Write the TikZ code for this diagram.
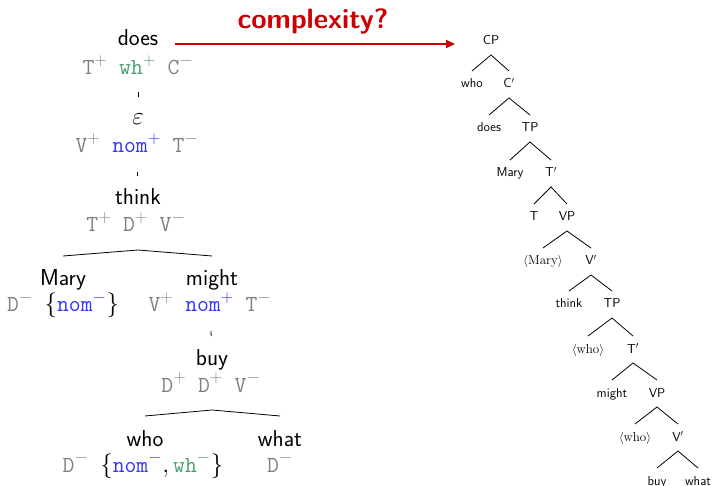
\documentclass[tikz,border=0pt]{standalone}
\usepackage{fontspec}
\usetikzlibrary{arrows.meta}
\definecolor{fgray}{RGB}{128,128,128}
\definecolor{wgreen}{RGB}{70,160,110}
\definecolor{nblue}{RGB}{50,50,255}
\definecolor{cred}{RGB}{204,0,0}
\newcommand{\fs}[2]{{\color{fgray}\texttt{#1}$^{#2}$}}
\newcommand{\fw}[2]{{\color{wgreen}\texttt{#1}$^{#2}$}}
\newcommand{\fn}[2]{{\color{nblue}\texttt{#1}$^{#2}$}}
\begin{document}
\begin{tikzpicture}[x=1pt,y=-1pt,
  word/.style={font=\fontsize{23}{27}\selectfont\sffamily, inner sep=0pt, text height=16pt, text depth=0pt},
  feat/.style={font=\fontsize{23}{27}\selectfont\ttfamily, inner sep=0pt, text height=14pt, text depth=0pt},
  rt/.style={font=\fontsize{13}{15}\selectfont\sffamily, inner sep=0pt, text height=8pt, text depth=0pt},
  rr/.style={font=\fontsize{13}{15}\selectfont\rmfamily, inner sep=0pt, text height=8pt, text depth=0pt},
  tick/.style={line width=0.8pt},
  br/.style={line width=0.8pt}]
\useasboundingbox (0,0) rectangle (715,486);
% title and arrow
\node[font=\fontsize{28}{32}\selectfont\sffamily\bfseries, text=cred, inner sep=0pt, anchor=base] (title) at (313,29) {complexity?};
\coordinate (a0) at (175,44);
\coordinate (a1) at (455,44);
\draw[cred, line width=1.6pt, -{Triangle[length=9pt,width=8pt]}] (a0) -- (a1);
% left tree
\node[word] (does) at (138,38) {does};
\node[feat] (f1) at (138,68) {\fs{T}{+} \fw{wh}{+} \fs{C}{-}};
\node[feat] (eps) at (138,118) {$\varepsilon$};
\node[feat] (f2) at (137,146) {\fs{V}{+} \fn{nom}{+} \fs{T}{-}};
\node[word] (think) at (138,197) {think};
\node[feat] (f3) at (136,225) {\fs{T}{+} \fs{D}{+} \fs{V}{-}};
\node[word] (mary) at (63,278) {Mary};
\node[feat] (f4) at (63,305) {\fs{D}{-} $\{$\fn{nom}{-}$\}$};
\node[word] (might) at (212,278) {might};
\node[feat] (f5) at (210,305) {\fs{V}{+} \fn{nom}{+} \fs{T}{-}};
\node[word] (buy) at (212,357) {buy};
\node[feat] (f6) at (211,385) {\fs{D}{+} \fs{D}{+} \fs{V}{-}};
\node[word] (who) at (145,438) {who};
\node[feat] (f7) at (143,465) {\fs{D}{-} $\{$\fn{nom}{-}$,\,$\fw{wh}{-}$\}$};
\node[word] (what) at (280,438) {what};
\node[feat] (f8) at (280,465) {\fs{D}{-}};
\draw[tick, shorten <=24pt, shorten >=21pt] (f1.center) -- (eps.center);
\draw[tick, shorten <=26pt, shorten >=21pt] (f2.center) -- (think.center);
\draw[tick, shorten <=26pt, shorten >=21pt] (f5.center) -- (buy.center);
\draw[br] ([yshift=22pt]mary.center) -- ([yshift=-53pt]think.center) -- ([yshift=22pt]might.center);
\draw[br] ([yshift=22pt]who.center) -- ([yshift=-53pt]buy.center) -- ([yshift=22pt]what.center);
% right tree
\node[rt] (cp) at (491,41) {CP};
\node[rt] (rwho) at (472,84) {who};
\node[rt] (cbar) at (509,84) {C$'$};
\node[rt] (rdoes) at (489,128) {does};
\node[rt] (tp) at (530,128) {TP};
\node[rt] (rmary) at (510,173) {Mary};
\node[rt] (tbar) at (551,173) {T$'$};
\node[rt] (t) at (534,217) {T};
\node[rt] (vp) at (567,217) {VP};
\node[rr] (tmary) at (543,261) {$\langle$Mary$\rangle$};
\node[rt] (vbar) at (591,261) {V$'$};
\node[rt] (rthink) at (569,304) {think};
\node[rt] (tp2) at (612,304) {TP};
\node[rr] (twho) at (588,349) {$\langle$who$\rangle$};
\node[rt] (tbar2) at (633,349) {T$'$};
\node[rt] (rmight) at (612,393) {might};
\node[rt] (vp2) at (657,393) {VP};
\node[rr] (twho2) at (635,437) {$\langle$who$\rangle$};
\node[rt] (vbar2) at (678,437) {V$'$};
\node[rt] (rbuy) at (657,481) {buy};
\node[rt] (rwhat) at (698,481) {what};
\foreach \p/\a/\b in {cp/rwho/cbar, cbar/rdoes/tp, tp/rmary/tbar, tbar/t/vp, vp/tmary/vbar, vbar/rthink/tp2, tp2/twho/tbar2, tbar2/rmight/vp2, vp2/twho2/vbar2, vbar2/rbuy/rwhat}
  \draw[br] ([yshift=13pt]\a.center) -- ([yshift=-14pt]\p.center) -- ([yshift=13pt]\b.center);
\end{tikzpicture}
\end{document}
